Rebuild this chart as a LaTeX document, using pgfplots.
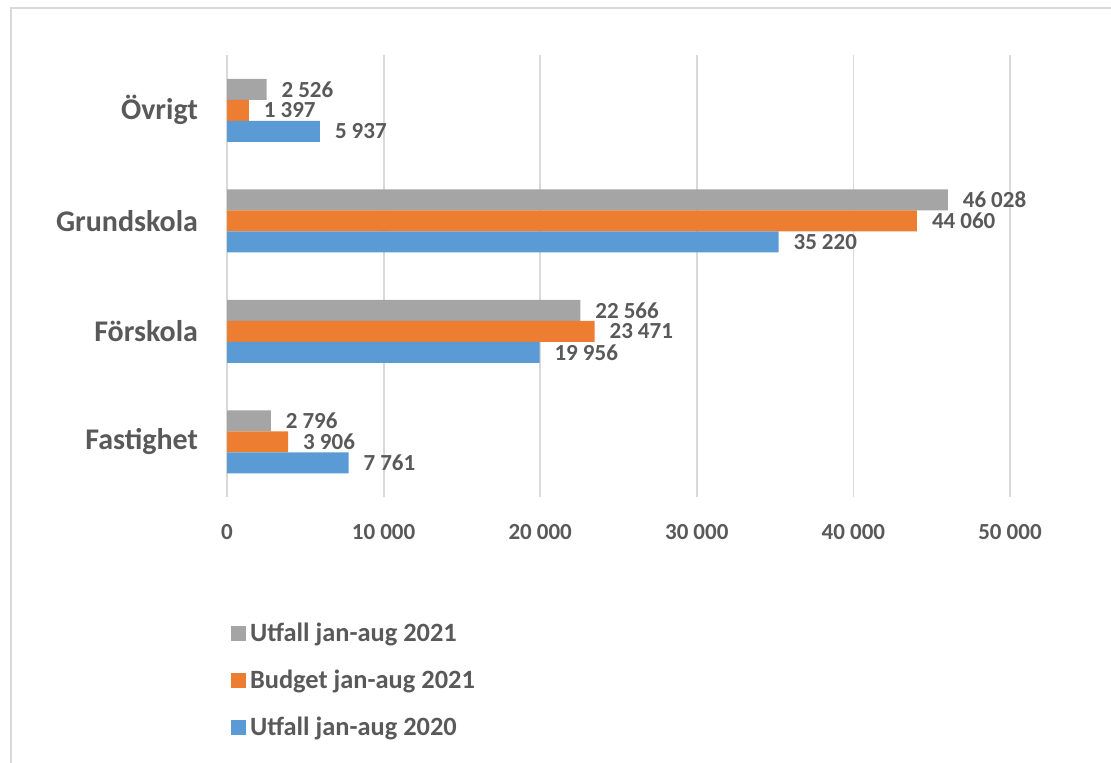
\documentclass[border=0pt]{standalone}
\usepackage{pgfplots}
\pgfplotsset{compat=1.18}
\usepackage{fontspec}
\setmainfont{Carlito}
\definecolor{txt}{HTML}{595959}
\definecolor{gridc}{HTML}{D9D9D9}
\definecolor{cgrey}{HTML}{A5A5A5}
\definecolor{corange}{HTML}{ED7D31}
\definecolor{cblue}{HTML}{5B9BD5}

\begin{document}
\begin{tikzpicture}
\useasboundingbox (0,0) rectangle (555.5pt,381pt);
\draw[gridc, line width=0.9pt] (5.6pt,-2pt) -- (5.6pt,376.8pt) -- (560pt,376.8pt);
\begin{axis}[
    at={(113.5pt,132.5pt)}, anchor=south west,
    xbar, scale only axis,
    width=391.5pt, height=221pt,
    xmin=0, xmax=50000, ymin=-0.5, ymax=3.5,
    ytick={0,1,2,3},
    yticklabels={Fastighet,Förskola,Grundskola,Övrigt},
    xtick={0,10000,...,50000},
    scaled x ticks=false,
    /pgf/number format/1000 sep={\hspace{0.22em}},
    /pgf/number format/assume math mode=true,
    axis line style={draw=none},
    major tick length=0pt,
    xmajorgrids,
    grid style={gridc, line width=0.9pt},
    tick label style={font=\bfseries\fontsize{11.5}{13}\selectfont, text=txt},
    yticklabel style={font=\bfseries\fontsize{15}{18}\selectfont, xshift=-11pt},
    xticklabel style={yshift=-10pt},
    bar width=10.5pt,
    nodes near coords,
    nodes near coords style={font=\bfseries\fontsize{11.5}{12}\selectfont, text=txt, xshift=4pt},
    clip=false,
    legend image code/.code={\fill[#1] (0pt,-3.75pt) rectangle (7.5pt,3.75pt);},
    legend style={at={(axis description cs:-0.003,-0.265)}, anchor=north west,
      draw=none, fill=none, text=txt,
      font=\bfseries\fontsize{13.2}{16}\selectfont,
      row sep=8.8pt, legend cell align=left},
  ]
\addplot[fill=cgrey, draw=none, bar shift=10.5pt] coordinates {(2796,0) (22566,1) (46028,2) (2526,3)};
\addplot[fill=corange, draw=none, bar shift=0pt] coordinates {(3906,0) (23471,1) (44060,2) (1397,3)};
\addplot[fill=cblue, draw=none, bar shift=-10.5pt] coordinates {(7761,0) (19956,1) (35220,2) (5937,3)};
\legend{Utfall jan-aug 2021, Budget jan-aug 2021, Utfall jan-aug 2020}
\end{axis}
\end{tikzpicture}
\end{document}
